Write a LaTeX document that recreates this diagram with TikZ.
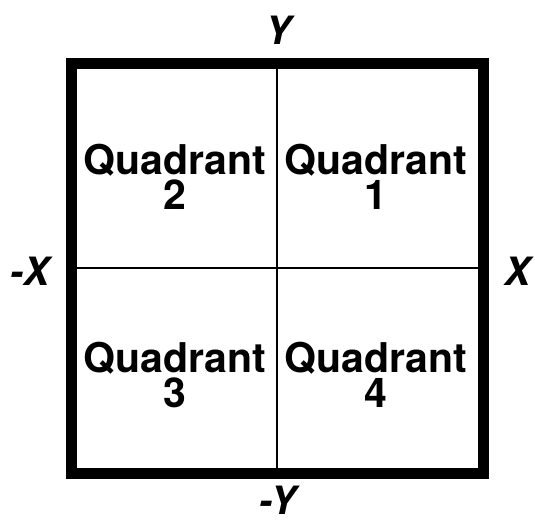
\documentclass[tikz,border=0pt]{standalone}
\usepackage{fontspec}
\setsansfont{TeX Gyre Heros}
\usetikzlibrary{positioning}

\begin{document}
\begin{tikzpicture}[
    x=1pt, y=1pt,
    font=\sffamily,
    every node/.style={inner sep=0pt},
    frameline/.style={line width=11pt, line join=miter},
    axisline/.style={line width=1.6pt},
    quadlabel/.style={font=\sffamily\bfseries\fontsize{41}{35}\selectfont, align=center},
    axislabel/.style={font=\sffamily\bfseries\itshape\fontsize{39}{40}\selectfont},
]
\useasboundingbox (0,0) rectangle (535,531);

% === corners of the frame ===
\coordinate (sw) at (71.5,57.5);
\coordinate (ne) at (483,467.5);
\coordinate (o) at (277,263);

% === quadrant dividers ===
\coordinate (top) at (o |- ne);
\coordinate (bot) at (o |- sw);
\coordinate (lft) at (o -| sw);
\coordinate (rgt) at (o -| ne);
\draw[axisline] (top) -- (bot);
\draw[axisline] (lft) -- (rgt);

% === frame ===
\draw[frameline] (sw) rectangle (ne);

% === quadrant names ===
\node[quadlabel] (q1) at (376,354) {Quadrant\\1};
\node[quadlabel] (q2) at (175,354) {Quadrant\\2};
\node[quadlabel] (q3) at (175,156) {Quadrant\\3};
\node[quadlabel] (q4) at (376,156) {Quadrant\\4};

% === axis names ===
\node[axislabel] (py) at (279,501) {Y};
\node[axislabel] (ny) at (278,31) {-Y};
\node[axislabel] (nx) at (30,260) {-X};
\node[axislabel] (px) at (517,260) {X};

\end{tikzpicture}
\end{document}
